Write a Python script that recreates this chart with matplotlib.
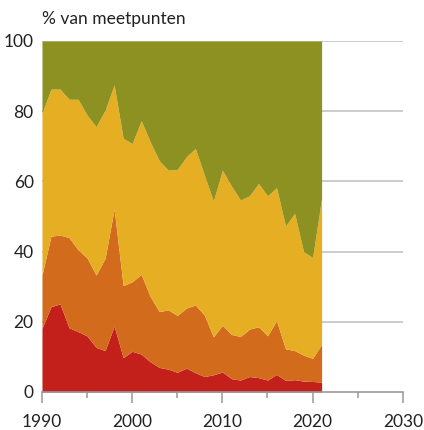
import matplotlib.pyplot as plt
import numpy as np

plt.rcParams['font.family'] = ['Lato', 'DejaVu Sans']

years = np.arange(1990, 2022)

red_top = [18.1, 24.3, 25.1, 18.3, 17.2, 16.0, 12.7, 11.8, 18.8, 9.8,
           11.6, 10.8, 8.6, 7.0, 6.5, 5.6, 6.8, 5.5, 4.4, 4.9,
           5.7, 3.8, 3.4, 4.4, 4.1, 3.4, 5.0, 3.3, 3.5, 3.1,
           3.0, 2.8]
orange_top = [33.3, 44.4, 44.7, 44.0, 40.5, 38.2, 33.3, 38.1, 52.1, 30.3,
              31.4, 33.5, 27.2, 22.9, 23.4, 21.8, 23.9, 24.8, 21.9, 15.7,
              19.0, 16.4, 15.8, 17.9, 18.6, 16.0, 20.3, 12.3, 11.8, 10.5,
              9.6, 13.6]
yellow_top = [79.4, 86.3, 86.3, 83.4, 83.4, 78.9, 75.6, 80.3, 87.5, 72.3,
              70.8, 77.3, 71.3, 65.9, 63.2, 63.4, 67.0, 69.4, 61.8, 54.4,
              63.2, 58.7, 54.7, 55.9, 59.4, 55.9, 58.2, 47.3, 50.9, 40.0,
              38.3, 55.2]
total = [100.0] * len(years)

colors = ['#c3201b', '#d36b1c', '#e6ae22', '#8c9122']

fig = plt.figure(figsize=(4.24, 4.30), dpi=100)
ax = fig.add_axes([0.099, 0.0884, 0.851, 0.8163])

red = np.array(red_top)
orange = np.array(orange_top)
yellow = np.array(yellow_top)
top = np.array(total)

ax.fill_between(years, 0, red, color=colors[0], lw=0)
ax.fill_between(years, red, orange, color=colors[1], lw=0)
ax.fill_between(years, orange, yellow, color=colors[2], lw=0)
ax.fill_between(years, yellow, top, color=colors[3], lw=0)

# Gridlines
for v in [20, 40, 60, 80, 100]:
    ax.axhline(v, color='#c8c8c8', lw=1.3, zorder=0)

ax.set_xlim(1990, 2030)
ax.set_ylim(0, 100)
ax.set_xticks([1990, 2000, 2010, 2020, 2030])
ax.set_xticks([1995, 2005, 2015, 2025], minor=True)
ax.set_yticks([0, 20, 40, 60, 80, 100])

for s in ['top', 'right', 'left']:
    ax.spines[s].set_visible(False)
ax.spines['bottom'].set_color('#999999')
ax.spines['bottom'].set_linewidth(1.2)

ax.tick_params(axis='x', which='major', length=8, width=1.1, color='#999999',
               labelsize=12.5, pad=8, labelcolor='#222222')
ax.tick_params(axis='x', which='minor', length=4.5, width=1.1, color='#999999')
ax.tick_params(axis='y', length=0, labelsize=12.5, pad=6, labelcolor='#222222')

fig.text(0.099, 0.955, '% van meetpunten', fontsize=12.5, color='#222222',
         ha='left', va='center')

fig.savefig('out.png', dpi=100)
